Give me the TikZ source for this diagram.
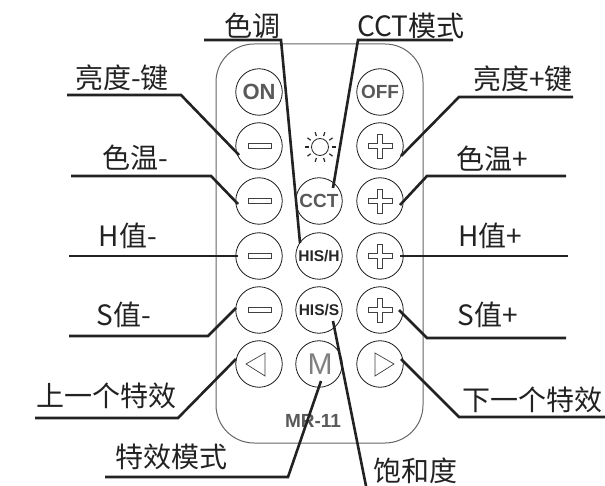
\documentclass[tikz,border=0pt]{standalone}
\usepackage{fontspec}
\setmainfont{Noto Sans CJK SC}
\newfontfamily\btnfont{Liberation Sans}
\usetikzlibrary{calc}
\definecolor{ink}{HTML}{222222}
\tikzset{
  x=1pt,y=-1pt,
  lead/.style={draw=ink,line width=2.6pt,line join=miter},
  lab/.style={font=\fontsize{28}{28}\selectfont,text=ink,inner sep=0pt,anchor=base},
  body/.style={draw=black!60,line width=1pt,rounded corners=38pt},
  btn/.style={circle,draw=black!90,line width=0.8pt,minimum size=46.5pt,inner sep=0pt},
  btntxt/.style={font=\btnfont\bfseries\fontsize{19}{19}\selectfont,text=black!65},
  hisstyle/.style={font=\btnfont\bfseries\fontsize{15.5}{15.5}\selectfont,text=black!85},
  hollow/.style={draw=black!75,line width=0.7pt,fill=white}
}
\begin{document}
\begin{tikzpicture}
\useasboundingbox (0,0) rectangle (605,486);
\draw[body] (216,44) rectangle (423,443);
\node[btn,btntxt,font=\btnfont\bfseries\fontsize{22}{22}\selectfont] (on) at (259,92) {ON};
\node[btn,btntxt] (off) at (380,92) {OFF};
\node[btn,btntxt] (cct) at (319,201) {CCT};
\node[btn,hisstyle] (hish) at (319,256) {HIS/H};
\node[btn,hisstyle] (hiss) at (319,310) {HIS/S};
\node[btn] (mb) at (319,364) {};
\node[font=\btnfont\fontsize{30}{30}\selectfont,text=black!50,inner sep=0pt] (mt) at (320,364) {M};
\foreach \n/\y in {ma/146,mb2/201,mc/256,md/310}{
  \node[btn] (\n) at (259,\y) {};
  \draw[hollow] (248,{\y-2.5}) rectangle (271,{\y+2.5});
}
\foreach \n/\y in {pa/146,pb/201,pc/256,pd/310}{
  \node[btn] (\n) at (380,\y) {};
  \draw[hollow,line join=miter] (368,{\y-2.5}) -- (377.5,{\y-2.5}) -- (377.5,{\y-12}) -- (382.5,{\y-12}) -- (382.5,{\y-2.5}) -- (392,{\y-2.5}) -- (392,{\y+2.5}) -- (382.5,{\y+2.5}) -- (382.5,{\y+12}) -- (377.5,{\y+12}) -- (377.5,{\y+2.5}) -- (368,{\y+2.5}) -- cycle;
}
\node[btn] (la) at (259,364) {};
\draw[hollow] (246,364) -- (265,353) -- (265,376) -- cycle;
\node[btn] (ra) at (380,364) {};
\draw[hollow] (394,364) -- (375,353) -- (375,376) -- cycle;
% sun
\coordinate (sun) at (320,147);
\draw[black!85,line width=0.8pt] (sun) circle (8.5pt);
\foreach \a in {0,36,...,324}
  \draw[black!85,line width=1.2pt] ($(sun)+(\a:11.5pt)$) -- ($(sun)+(\a:15.5pt)$);
\node[btntxt] (model) at (313,421) {MR-11};
% anchors
\foreach \n/\x/\y in {a1/67/95,a2/181/95,a3/239/155,b1/71/176,b2/211/176,b3/238/204,c1/69/256,c3/238/256,d1/69/336,d2/208/336,d3/236/308,e1/35/418,e2/178/418,e3/236/359,f1/105/477,f2/288/477,f3/321/381,g1/333/321,g2/366/486,h1/204/40,h2/281/40,h3/300/243,i1/453/40,i2/358/40,i3/333/188,
 j1/573/97,j2/459/97,j3/401/156,k1/566/176,k2/427/176,k3/400/205,l1/568/256,l3/400/256,m1/566/338,m2/427/338,m3/399/310,n1/605/417,n2/459/417,n3/401/359}
  \coordinate (\n) at (\x,\y);
\draw[lead] (a1) -- (a2) -- (a3);
\draw[lead] (b1) -- (b2) -- (b3);
\draw[lead] (c1) -- (c3);
\draw[lead] (d1) -- (d2) -- (d3);
\draw[lead] (e1) -- (e2) -- (e3);
\draw[lead] (f1) -- (f2) -- (f3);
\draw[lead] (g1) -- (g2);
\draw[lead] (h1) -- (h2) -- (h3);
\draw[lead] (i1) -- (i2) -- (i3);
\draw[lead] (j1) -- (j2) -- (j3);
\draw[lead] (k1) -- (k2) -- (k3);
\draw[lead] (l1) -- (l3);
\draw[lead] (m1) -- (m2) -- (m3);
\draw[lead] (n1) -- (n2) -- (n3);
% labels
\node[lab] (t1) at (122,89) {亮度-键};
\node[lab] (t2) at (135,169) {色温-};
\node[lab] (t3) at (128,247) {H值-};
\node[lab] (t4) at (124,326) {S值-};
\node[lab] (t5) at (106,406) {上一个特效};
\node[lab] (t6) at (171,467) {特效模式};
\node[lab] (t7) at (252,37) {色调};
\node[lab] (t8) at (411,37) {CCT模式};
\node[lab] (t9) at (415,481) {饱和度};
\node[lab] (t10) at (523,90) {亮度+键};
\node[lab] (t11) at (492,170) {色温+};
\node[lab] (t12) at (490,247) {H值+};
\node[lab] (t13) at (488,326) {S值+};
\node[lab] (t14) at (532,410) {下一个特效};
\end{tikzpicture}
\end{document}
